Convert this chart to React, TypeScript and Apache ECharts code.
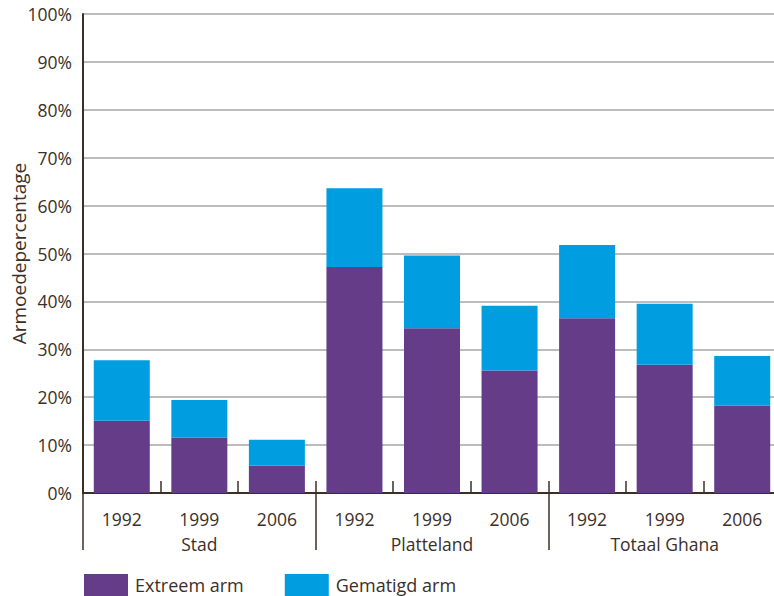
import React, { useEffect, useRef } from "react";
import * as echarts from "echarts";

const years = ["1992", "1999", "2006", "1992", "1999", "2006", "1992", "1999", "2006"];
const groups = ["Stad", "Platteland", "Totaal Ghana"];
const extreemArm = [15.1, 11.6, 5.7, 47.2, 34.4, 25.6, 36.5, 26.8, 18.2];
const gematigdArm = [12.6, 7.8, 5.4, 16.4, 15.2, 13.5, 15.3, 12.7, 10.4];
const seriesNames = ["Extreem arm", "Gematigd arm"];

const TEXT = "#3b2f29";
const FONT = "Open Sans";

export default function App() {
  const ref = useRef<HTMLDivElement>(null);
  useEffect(() => {
    if (!ref.current) return;
    const chart = echarts.init(ref.current, null, { renderer: "svg" });
    chart.setOption({
      animation: false,
      textStyle: { fontFamily: FONT, color: TEXT },
      grid: { left: 83, right: -7, top: 14, bottom: 103, outerBoundsMode: "none", containLabel: false },
      legend: {
        left: 84,
        top: 574,
        padding: 0,
        itemWidth: 44,
        itemHeight: 22,
        itemGap: 41,
        icon: "rect",
        textStyle: { fontFamily: FONT, fontSize: 18, color: TEXT, padding: [0, 0, 0, 2] },
        data: seriesNames,
      },
      xAxis: [
        {
          type: "category",
          data: years,
          axisLine: { show: true, lineStyle: { color: TEXT, width: 2 } },
          axisTick: { show: true, inside: true, length: 12, interval: 0, lineStyle: { color: TEXT, width: 1.5 } },
          axisLabel: { margin: 17, fontSize: 17.5, color: TEXT, fontFamily: FONT, interval: 0 },
        },
        {
          type: "category",
          data: groups,
          position: "bottom",
          axisLine: { show: false },
          axisTick: { show: true, length: 57, interval: 0, lineStyle: { color: TEXT, width: 1.5 } },
          axisLabel: { margin: 42, fontSize: 17.5, color: TEXT, fontFamily: FONT, interval: 0 },
        },
      ],
      yAxis: {
        type: "value",
        min: 0,
        max: 100,
        interval: 10,
        name: "Armoedepercentage",
        nameLocation: "middle",
        nameGap: 55,
        nameMoveOverlap: false,
        nameTextStyle: { fontSize: 19, color: TEXT, fontFamily: FONT },
        axisLine: { show: true, lineStyle: { color: TEXT, width: 2 } },
        axisTick: { show: false },
        axisLabel: { formatter: "{value}%", fontSize: 17.5, color: TEXT, fontFamily: FONT, margin: 11 },
        splitLine: { show: true, lineStyle: { color: "#a6a6a6", width: 1.5 } },
      },
      series: [
        {
          name: seriesNames[0],
          type: "bar",
          stack: "total",
          data: extreemArm,
          barWidth: 56,
          itemStyle: { color: "#643c87" },
        },
        {
          name: seriesNames[1],
          type: "bar",
          stack: "total",
          data: gematigdArm,
          barWidth: 56,
          itemStyle: { color: "#009ee0" },
        },
      ],
    });
    return () => chart.dispose();
  }, []);
  return <div ref={ref} style={{ width: 774, height: 596, position: "absolute", left: 0, top: 0 }} />;
}
